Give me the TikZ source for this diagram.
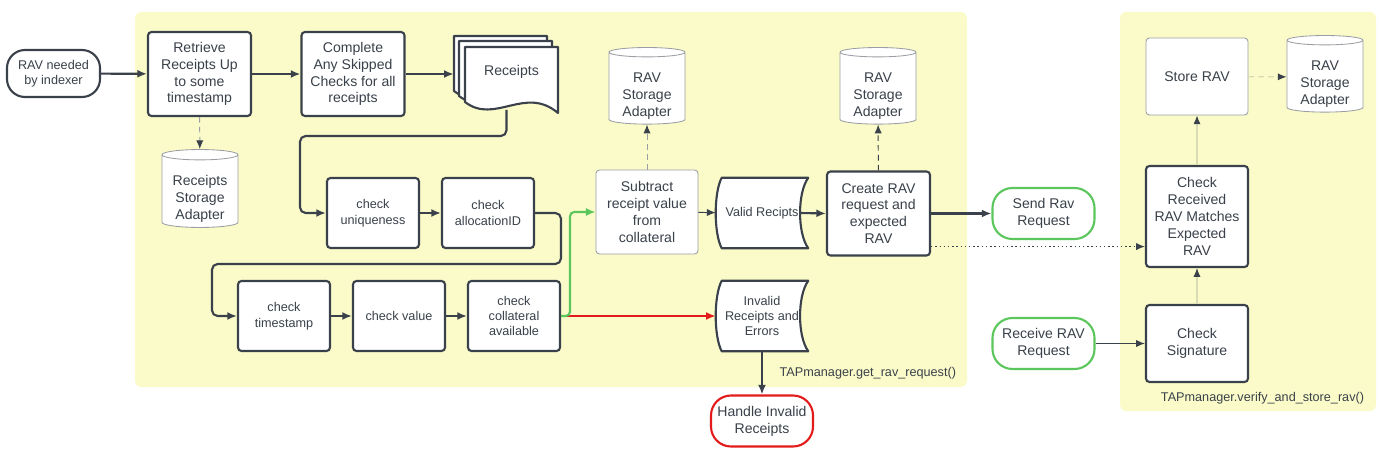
\documentclass[tikz,border=0pt]{standalone}
\usepackage{fontspec}
\setmainfont{Liberation Sans}
\usetikzlibrary{arrows.meta,shapes.geometric,backgrounds,calc}
\definecolor{ink}{HTML}{3A414A}
\definecolor{panel}{HTML}{FAFBC8}
\definecolor{okgreen}{HTML}{5BC65B}
\definecolor{errred}{HTML}{E31B1B}
\definecolor{softgray}{HTML}{9A9EA4}
\definecolor{paleline}{HTML}{D8DCB2}

\begin{document}
\begin{tikzpicture}[x=0.025cm, y=-0.025cm, font=\fontsize{10}{12}\selectfont, text=ink,
	procbox/.style={draw=ink, line width=1.5pt, fill=white, rounded corners=2.5pt, align=center, inner sep=1pt, minimum width=2.575cm, minimum height=2.1cm},
	thinbox/.style={procbox, draw=softgray, line width=0.6pt},
	chkbox/.style={procbox, font=\fontsize{9}{11}\selectfont, minimum width=2.3cm, minimum height=1.75cm},
	termbox/.style={draw=ink, line width=1.5pt, fill=white, rounded corners=0.5cm, align=center, inner sep=1pt, minimum width=2.55cm, minimum height=1.275cm},
	dbase/.style={cylinder, shape border rotate=90, aspect=0.18, draw=softgray, line width=0.6pt, fill=white, align=center, inner sep=1pt, text height=41pt, minimum width=1.9cm, minimum height=1.9cm},
	sheet/.style={draw=ink, line width=1.5pt, fill=white, line join=round},
	flow/.style={draw=ink, line width=1.5pt, -{Latex[length=2.4mm,width=2mm]}},
	thinflow/.style={draw=ink, line width=0.7pt, -{Latex[length=2.2mm,width=1.8mm]}},
	dashflow/.style={draw=softgray, line width=0.7pt, dash pattern=on 4pt off 3pt, -{Latex[length=2.2mm,width=1.8mm,color=ink]}},
	paleflow/.style={draw=paleline, line width=0.8pt, -{Latex[length=2.2mm,width=1.8mm,color=ink]}}]
	\begin{scope}[on background layer]
	\fill[panel, rounded corners=4pt] (135,12) rectangle (967,387);
	\fill[panel, rounded corners=4pt] (1120,12) rectangle (1376,411);
	\end{scope}
	\node[termbox, font=\fontsize{9}{11}\selectfont, minimum width=2.325cm, minimum height=1.175cm, rounded corners=0.45cm] (rav) at (53.5,73.5) {RAV needed\\by indexer};
	\node[procbox] (ret) at (199.5,74) {Retrieve\\Receipts Up\\to some\\timestamp};
	\node[procbox] (cmp) at (353,74) {Complete\\Any Skipped\\Checks for all\\receipts};
	\node[minimum width=2.325cm] (rcp) at (511.5,72) {Receipts};
	\node[dbase] (rsa) at (200,192) {Receipts\\Storage\\Adapter};
	\node[chkbox] (uniq) at (373,213) {check\\uniqueness};
	\node[chkbox] (alloc) at (488,213) {check\\allocationID};
	\node[chkbox] (tsp) at (284,316) {check\\timestamp};
	\node[chkbox] (val) at (399,316) {check value};
	\node[chkbox] (col) at (514,316) {check\\collateral\\available};
	\node[thinbox, minimum width=2.55cm] (sub) at (647,212) {Subtract\\receipt value\\from\\collateral};
	\node[dbase] (ras1) at (647,89) {RAV\\Storage\\Adapter};
	\node[font=\fontsize{9}{11}\selectfont, align=center, minimum width=2.3cm, minimum height=1.75cm] (vr) at (762,213) {Valid Recipts};
	\node[font=\fontsize{9}{11}\selectfont, align=center, minimum width=2.3cm, minimum height=1.75cm] (ir) at (762,316) {Invalid\\Receipts and\\Errors};
	\node[procbox] (cre) at (878.5,213.5) {Create RAV\\request and\\expected\\RAV};
	\node[dbase] (ras2) at (878,89) {RAV\\Storage\\Adapter};
	\node[termbox, draw=okgreen] (send) at (1043.5,213.5) {Send Rav\\Request};
	\node[termbox, draw=errred] (hir) at (762,421) {Handle Invalid\\Receipts};
	\node[termbox, draw=okgreen] (rcv) at (1043.5,343.5) {Receive RAV\\Request};
	\node[thinbox, minimum width=2.55cm, minimum height=1.925cm] (sto) at (1197,76.5) {Store RAV};
	\node[dbase] (ras3) at (1325,77) {RAV\\Storage\\Adapter};
	\node[procbox, minimum width=2.55cm, minimum height=2.525cm] (chk) at (1197,216.5) {Check\\Received\\RAV Matches\\Expected\\RAV};
	\node[procbox, minimum width=2.55cm, minimum height=1.925cm] (sig) at (1197,343.5) {Check\\Signature};
	\node[font=\fontsize{9}{11}\selectfont, anchor=east] (getlbl) at (961,373) {TAPmanager.get\_rav\_request()};
	\node[font=\fontsize{9}{11}\selectfont, anchor=east] (verlbl) at (1369,398) {TAPmanager.verify\_and\_store\_rav()};
	\begin{scope}[on background layer]
	\foreach \d in {-11,-6,0}
		\draw[sheet, shift={(\d,\d)}] (465,47) -- (558,47) -- (558,113) .. controls (525,85) and (495,125) .. (465,102) -- cycle;
	\foreach \n in {vr,ir}
		\draw[sheet] ($(\n.north west)+(6,0)$) -- (\n.north east) .. controls ($(\n.north east)+(-11,15)$) and ($(\n.south east)+(-11,-15)$) .. (\n.south east) -- ($(\n.south west)+(6,0)$) .. controls ($(\n.south west)+(-2,-15)$) and ($(\n.north west)+(-2,15)$) .. cycle;
	\end{scope}
	\coordinate (bend1) at (300,136);
	\coordinate (bend2) at (561,264);
	\coordinate (bend3) at (212,264);
	\coordinate (split) at (570,316);
	\coordinate (dotstart) at ($(cre.south east)+(0,-10)$);
	\draw[flow] (rav) -- (ret);
	\draw[flow] (ret) -- (cmp);
	\draw[flow] (cmp.east) -- ($(cmp.east -| rcp.west)+(-11,0)$);
	\draw[dashflow] (ret) -- (rsa);
	\draw[flow, rounded corners=4pt] ($(rcp)+(-5,38)$) |- (bend1) |- (uniq.west);
	\draw[flow] (uniq) -- (alloc);
	\draw[flow, rounded corners=4pt] (alloc.east) -| (bend2) -- (bend3) |- (tsp.west);
	\draw[flow] (tsp) -- (val);
	\draw[flow] (val) -- (col);
	\draw[flow, draw=errred, -{Latex[length=2.4mm,width=2mm,color=errred]}] (col.east) -- (ir.west);
	\draw[flow, draw=okgreen, rounded corners=3pt, -{Latex[length=2.4mm,width=2mm,color=okgreen]}] (col.east) -- (split) |- (sub.west);
	\draw[dashflow] (sub) -- (ras1);
	\draw[thinflow] (sub) -- (vr);
	\draw[flow] ($(vr.east)+(-8,0)$) -- (cre.west);
	\draw[dashflow, draw=ink] (cre) -- (ras2);
	\draw[flow] (cre) -- (send);
	\draw[thinflow, dash pattern=on 1pt off 2pt] (dotstart) -- (dotstart -| chk.west);
	\draw[flow] (ir) -- (hir);
	\draw[thinflow] (rcv) -- (sig);
	\draw[paleflow] (sig) -- (chk);
	\draw[paleflow] (chk) -- (sto);
	\draw[paleflow, dash pattern=on 4pt off 3pt] (sto) -- (ras3);
	\useasboundingbox (0,0) rectangle (1384,453);
\end{tikzpicture}
\end{document}
